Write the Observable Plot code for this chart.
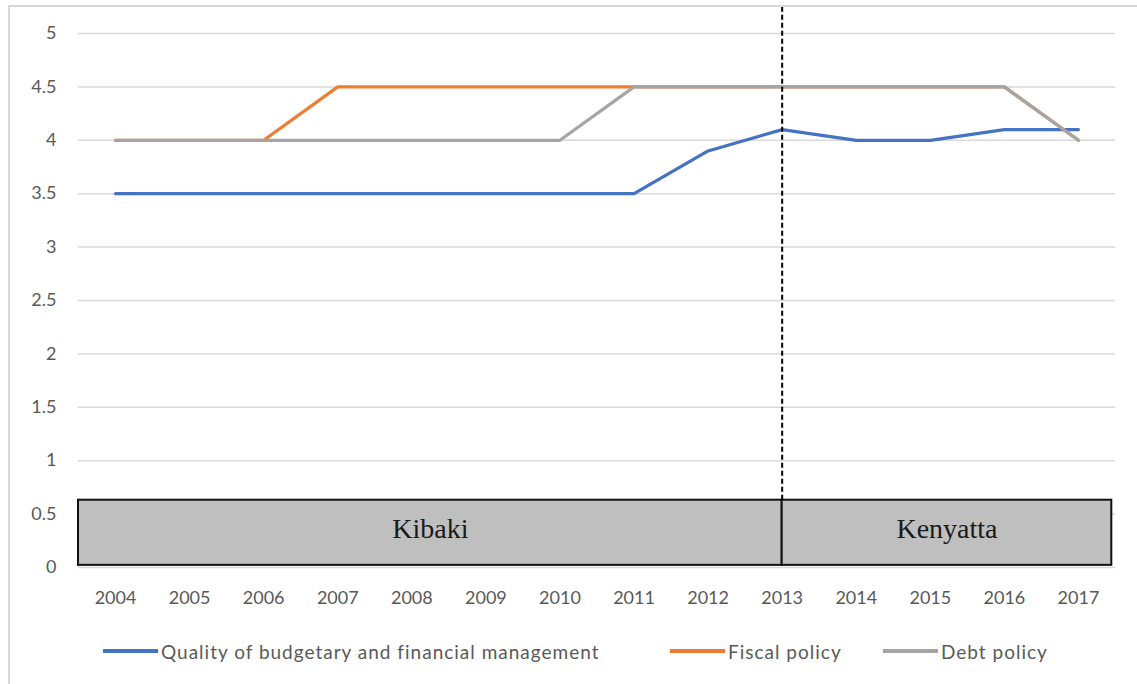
<!DOCTYPE html>
<html>
<head>
<meta charset="utf-8">
<script src="https://cdn.jsdelivr.net/npm/d3@7"></script>
<script src="https://cdn.jsdelivr.net/npm/@observablehq/plot@0.6"></script>
<style>
  html, body { margin: 0; padding: 0; background: #fff; }
  #wrap { position: relative; width: 1137px; height: 684px; overflow: hidden; }
  #frame { position: absolute; left: 8px; top: 5px; width: 1140px; height: 690px; border: 2px solid #d9d9d9; box-sizing: border-box; pointer-events: none; }
  #chart { position: absolute; left: 0; top: 0; }
  .leg { position: absolute; top: 639px; height: 24px; display: flex; align-items: center; font-family: Lato, "Open Sans", sans-serif; font-size: 19px; color: #595959; letter-spacing: 1px; white-space: nowrap; }
  .leg span.sw { display: inline-block; width: 55px; height: 4px; margin-right: 3px; }
</style>
</head>
<body>
<div id="wrap">
  <div id="chart"></div>
  <div id="frame"></div>
</div>
<script>
const years = [2004, 2005, 2006, 2007, 2008, 2009, 2010, 2011, 2012, 2013, 2014, 2015, 2016, 2017];
const seriesNames = ["Quality of budgetary and financial management", "Fiscal policy", "Debt policy"];
const qualityValues = [3.5, 3.5, 3.5, 3.5, 3.5, 3.5, 3.5, 3.5, 3.9, 4.1, 4.0, 4.0, 4.1, 4.1];
const fiscalValues  = [4.0, 4.0, 4.0, 4.5, 4.5, 4.5, 4.5, 4.5, 4.5, 4.5, 4.5, 4.5, 4.5, 4.0];
const debtValues    = [4.0, 4.0, 4.0, 4.0, 4.0, 4.0, 4.0, 4.5, 4.5, 4.5, 4.5, 4.5, 4.5, 4.0];
const seriesColors = ["#4472C4", "#ED7D31", "#A5A5A5"];
const yTicks = [0, 0.5, 1, 1.5, 2, 2.5, 3, 3.5, 4, 4.5, 5];
const eraNames = ["Kibaki", "Kenyatta"];
const eraStart = [2003.5, 2013];
const eraEnd = [2013, 2017.45];
const splitYear = 2013;

const allValues = [qualityValues, fiscalValues, debtValues];
const rows = [];
seriesNames.forEach((s, i) => years.forEach((yr, j) => rows.push({series: s, year: yr, value: allValues[i][j]})));
const eras = eraNames.map((n, i) => ({name: n, start: eraStart[i], end: eraEnd[i], mid: (eraStart[i] + eraEnd[i]) / 2}));

const plot = Plot.plot({
  width: 1137,
  height: 630,
  marginLeft: 78,
  marginRight: 22,
  marginTop: 33,
  marginBottom: 63,
  style: {fontFamily: "Lato, 'Open Sans', sans-serif", fontSize: "18px", color: "#595959", background: "transparent"},
  x: {domain: [2003.5, 2017.5], axis: null},
  y: {domain: [0, 5], axis: null},
  color: {domain: seriesNames, range: seriesColors},
  marks: [
    Plot.ruleY(yTicks, {y: d => d, stroke: "#d9d9d9", strokeWidth: 1.5}),
    Plot.axisY(yTicks, {tickSize: 0, tickPadding: 0, dx: -22, label: null, tickFormat: d => String(d), fill: "#595959", fontSize: 18, letterSpacing: 1}),
    Plot.axisX(years, {tickSize: 0, tickPadding: 0, dy: 24, label: null, tickFormat: d => String(d), fill: "#595959", fontSize: 18, letterSpacing: 1.5}),
    Plot.line(rows, {x: "year", y: "value", z: "series", stroke: "series", strokeWidth: 3.2, strokeLinejoin: "round"}),
    Plot.rect(eras, {x1: "start", x2: "end", y1: 0.02, y2: 0.63, fill: "#bfbfbf", stroke: "#111", strokeWidth: 2}),
    Plot.text(eras, {x: "mid", y: 0.36, text: "name", fontFamily: "'Liberation Serif', 'DejaVu Serif', serif", fontSize: 28, fill: "#1a1a1a"}),
    Plot.ruleX([splitYear], {x: d => d, y1: 0.63, y2: 5.27, stroke: "#000", strokeWidth: 2, strokeDasharray: "5,3", clip: false})
  ]
});
document.getElementById("chart").appendChild(plot);

const legLefts = [103, 670, 883];
const wrap = document.getElementById("wrap");
seriesNames.forEach((s, i) => {
  const d = document.createElement("div");
  d.className = "leg";
  d.style.left = legLefts[i] + "px";
  const sw = document.createElement("span");
  sw.className = "sw";
  sw.style.background = seriesColors[i];
  d.appendChild(sw);
  d.appendChild(document.createTextNode(s));
  wrap.appendChild(d);
});
</script>
</body>
</html>
